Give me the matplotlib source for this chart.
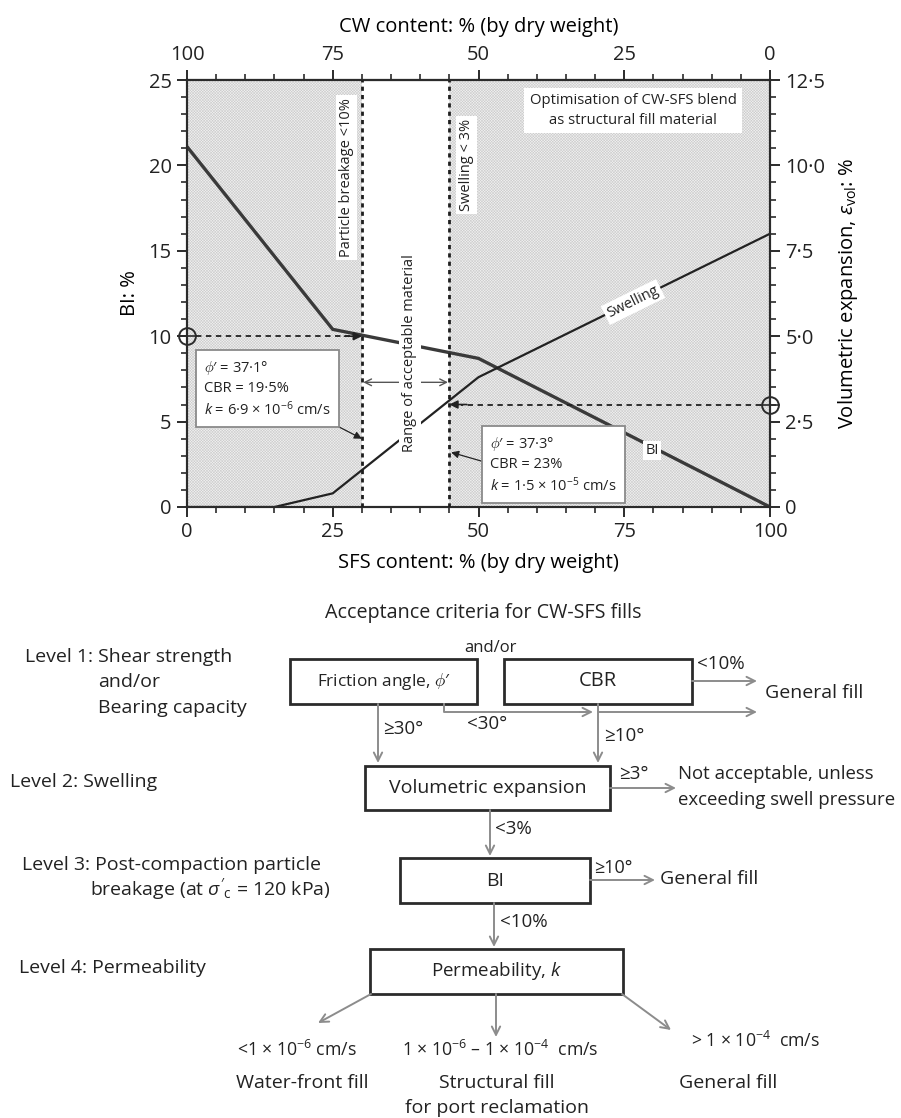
import numpy as np
import matplotlib
matplotlib.use('Agg')
import matplotlib.pyplot as plt
from matplotlib.patches import Rectangle
from matplotlib.ticker import MultipleLocator, FixedLocator, FixedFormatter

plt.rcParams['font.family'] = ['Open Sans', 'DejaVu Sans']
plt.rcParams['mathtext.fontset'] = 'custom'
plt.rcParams['mathtext.rm'] = 'Open Sans'
plt.rcParams['mathtext.it'] = 'Open Sans:italic'
plt.rcParams['mathtext.bf'] = 'Open Sans:bold'
plt.rcParams['hatch.linewidth'] = 0.4
plt.rcParams['text.color'] = '#222222'

# ---- chart data ----
bi_sfs = [0, 25, 50, 100]
bi_vals = [21.1, 10.4, 8.7, 0.0]
swell_sfs = [0, 15, 25, 50, 100]
swell_vals = [0.0, 0.0, 0.4, 3.8, 8.0]
breakage_limit = 30    # SFS % giving BI = 10 %
swelling_limit = 45    # SFS % giving swelling = 3 %
bi_target = 10
swell_target = 3.0
sfs_ticks = [0, 25, 50, 75, 100]
vol_ticks = [0, 2.5, 5, 7.5, 10, 12.5]
vol_labels = ['0', '2·5', '5·0', '7·5', '10·0', '12·5']
box_low = [r"$\phi$′ = 37·1°", 'CBR = 19·5%', r'$k$ = 6·9 × 10$^{-6}$ cm/s']
box_high = [r"$\phi$′ = 37·3°", 'CBR = 23%', r'$k$ = 1·5 × 10$^{-5}$ cm/s']

dark = '#2b2b2b'
grey_arrow = '#8c8c8c'

fig = plt.figure(figsize=(9.01, 11.18), dpi=100)

# ---- flowchart (pixel layout, drawn first so the chart sits on top) ----
fc = fig.add_axes([0, 0, 1, 1])
fc.set_xlim(0, 901)
fc.set_ylim(1118, 0)
fc.axis('off')

flow_boxes = [
    (r"Friction angle, $\phi$′", 290, 659, 477, 704, 12.4),
    ('CBR', 504, 659, 692, 704, 14.5),
    ('Volumetric expansion', 365, 766, 610, 810, 14),
    ('BI', 400, 858, 590, 903, 14),
    (r'Permeability, $k$', 370, 949, 623, 994, 13.5),
]
for label, x0, y0, x1, y1, fs in flow_boxes:
    fc.add_patch(Rectangle((x0, y0), x1 - x0, y1 - y0, fc='white', ec=dark, lw=2))
    fc.text((x0 + x1) / 2, (y0 + y1) / 2, label, ha='center', va='center', fontsize=fs)

flow_arrows = [
    (692, 681, 757, 681),
    (598, 712, 757, 712),
    (598, 704, 598, 763),
    (378, 704, 378, 763),
    (610, 788, 676, 788),
    (490, 810, 490, 856),
    (590, 880, 655, 880),
    (494, 903, 494, 947),
    (371, 994, 318, 1023),
    (496, 994, 496, 1037),
    (622, 994, 671, 1030),
]
for x0, y0, x1, y1 in flow_arrows:
    fc.annotate('', xy=(x1, y1), xytext=(x0, y0),
                arrowprops=dict(arrowstyle='->', color=grey_arrow, lw=1.4,
                                shrinkA=0, shrinkB=0, mutation_scale=15))
# bent connector friction angle -> general fill
fc.plot([444, 444, 585], [704, 712, 712], color=grey_arrow, lw=1.4)
fc.annotate('', xy=(593, 712), xytext=(580, 712),
            arrowprops=dict(arrowstyle='->', color=grey_arrow, lw=1.4,
                            shrinkA=0, shrinkB=0, mutation_scale=15))

flow_texts = [
    (483, 613, 'Acceptance criteria for CW-SFS fills', 'center', 14.2),
    (25, 657, 'Level 1: Shear strength', 'left', 14),
    (98, 682, 'and/or', 'left', 14),
    (98, 708, 'Bearing capacity', 'left', 14),
    (490, 648, 'and/or', 'center', 12),
    (697, 664, '<10%', 'left', 13.5),
    (765, 693, 'General fill', 'left', 14),
    (487, 724, '<30°', 'center', 13.5),
    (383, 729, '≥30°', 'left', 13.5),
    (604, 736, '≥10°', 'left', 13.5),
    (10, 782, 'Level 2: Swelling', 'left', 14),
    (619, 774, '≥3°', 'left', 13.5),
    (678, 774, 'Not acceptable, unless', 'left', 13.4),
    (678, 800, 'exceeding swell pressure', 'left', 13.4),
    (495, 829, '<3%', 'left', 13.5),
    (22, 865, 'Level 3: Post-compaction particle', 'left', 14),
    (90, 889, r"breakage (at $\sigma'_{\rm c}$ = 120 kPa)", 'left', 14),
    (594, 868, '≥10°', 'left', 13),
    (660, 879, 'General fill', 'left', 14),
    (500, 922, '<10%', 'left', 13.5),
    (19, 968, 'Level 4: Permeability', 'left', 14),
    (297, 1050, r'<1 × 10$^{-6}$ cm/s', 'center', 12.7),
    (500, 1050, r'1 × 10$^{-6}$ – 1 × 10$^{-4}$  cm/s', 'center', 12.7),
    (755, 1041, r'> 1 × 10$^{-4}$  cm/s', 'center', 12.7),
    (302, 1083, 'Water-front fill', 'center', 14),
    (497, 1083, 'Structural fill', 'center', 14),
    (497, 1108, 'for port reclamation', 'center', 14),
    (728, 1083, 'General fill', 'center', 14),
]
for x, y, s, ha, fs in flow_texts:
    fc.text(x, y, s, ha=ha, va='center', fontsize=fs)

# ---- chart ----
ax = fig.add_axes([187 / 901, 1 - 507 / 1118, 583 / 901, 427 / 1118])
ax.set_xlim(0, 100)
ax.set_ylim(0, 25)
ax.axvspan(0, breakage_limit, facecolor='#f2f2f2', hatch='x' * 12, edgecolor='#cdcdcd', lw=0)
ax.axvspan(swelling_limit, 100, facecolor='#f2f2f2', hatch='x' * 12, edgecolor='#cdcdcd', lw=0)
ax.plot(bi_sfs, bi_vals, color='#3a3a3a', lw=2.4, solid_joinstyle='miter')

ax2 = ax.twinx()
ax2.set_ylim(0, 12.5)
ax2.plot(swell_sfs, swell_vals, color='#222222', lw=1.6)

for a in (ax, ax2):
    for sp in a.spines.values():
        sp.set_color(dark)
        sp.set_linewidth(1.5)

ax.xaxis.set_major_locator(FixedLocator(sfs_ticks))
ax.xaxis.set_minor_locator(MultipleLocator(5))
ax.yaxis.set_major_locator(MultipleLocator(5))
ax.yaxis.set_minor_locator(MultipleLocator(1))
ax2.yaxis.set_major_locator(FixedLocator(vol_ticks))
ax2.yaxis.set_major_formatter(FixedFormatter(vol_labels))
ax2.yaxis.set_minor_locator(MultipleLocator(0.5))

top = ax.secondary_xaxis('top', functions=(lambda v: 100 - v, lambda v: 100 - v))
top.xaxis.set_major_locator(FixedLocator(sfs_ticks))
top.xaxis.set_minor_locator(MultipleLocator(5))
top.spines['top'].set_color(dark)
top.spines['top'].set_linewidth(1.5)

for a in (ax, ax2, top):
    a.tick_params(which='major', direction='out', length=7, width=1.4, colors=dark,
                  labelsize=14.5, labelcolor='#222222', pad=4)
    a.tick_params(which='minor', direction='out', length=4, width=1.2, colors=dark)

ax.set_xlabel('SFS content: % (by dry weight)', fontsize=14.5, labelpad=8)
top.set_xlabel('CW content: % (by dry weight)', fontsize=14.5, labelpad=9)
ax.set_ylabel('BI: %', fontsize=14.5, labelpad=6)
ax2.set_ylabel(r'Volumetric expansion, $\varepsilon_{\rm vol}$: %', fontsize=14.5, labelpad=8)

# limit lines
for xl in (breakage_limit, swelling_limit):
    ax2.axvline(xl, color='#1e1e1e', lw=2.0, ls=(0, (1.5, 1.5)), zorder=3)

# target markers and dashed arrows
ax.plot([0], [bi_target], marker='o', ms=12, mfc='none', mec=dark, mew=1.4, clip_on=False, zorder=5)
ax.plot([0], [bi_target], marker='+', ms=15, mec=dark, mew=1.2, clip_on=False, zorder=5)
ax2.plot([100], [swell_target], marker='o', ms=12, mfc='none', mec=dark, mew=1.4, clip_on=False, zorder=5)
ax2.plot([100], [swell_target], marker='+', ms=15, mec=dark, mew=1.2, clip_on=False, zorder=5)
ax2.plot([1.5, breakage_limit - 2], [bi_target / 2, bi_target / 2], color='#222', lw=1.3, ls=(0, (3, 2.5)))
ax2.annotate('', xy=(breakage_limit, bi_target / 2), xytext=(breakage_limit - 3, bi_target / 2),
             arrowprops=dict(arrowstyle='-|>', color='#222', lw=1.2, shrinkA=0, shrinkB=0, mutation_scale=12))
ax2.plot([98.5, swelling_limit + 2], [swell_target, swell_target], color='#222', lw=1.3, ls=(0, (3, 2.5)))
ax2.annotate('', xy=(swelling_limit, swell_target), xytext=(swelling_limit + 3, swell_target),
             arrowprops=dict(arrowstyle='-|>', color='#222', lw=1.2, shrinkA=0, shrinkB=0, mutation_scale=12))

# range of acceptable material
ax2.annotate('', xy=(swelling_limit, 7.3 / 2), xytext=(breakage_limit, 7.3 / 2),
             arrowprops=dict(arrowstyle='<->', color='#555', lw=1.0, shrinkA=1, shrinkB=1, mutation_scale=12))
ax2.text(38.2, 9.0, 'Range of acceptable material', transform=ax.transData, rotation=90,
         ha='center', va='center', fontsize=10.5, zorder=6,
         bbox=dict(boxstyle='square,pad=0.25', fc='white', ec='none'))
ax2.text(27.4, 19.3, 'Particle breakage <10%', transform=ax.transData, rotation=90,
         ha='center', va='center', fontsize=10.5, zorder=6,
         bbox=dict(boxstyle='square,pad=0.2', fc='white', ec='none'))
ax2.text(48.0, 20.0, 'Swelling < 3%', transform=ax.transData, rotation=90,
         ha='center', va='center', fontsize=10.5, zorder=6,
         bbox=dict(boxstyle='square,pad=0.2', fc='white', ec='none'))
ax2.text(76.5, 23.2, 'Optimisation of CW-SFS blend\nas structural fill material', transform=ax.transData,
         ha='center', va='center', fontsize=10.7, linespacing=1.45, zorder=6,
         bbox=dict(boxstyle='square,pad=0.35', fc='white', ec='none'))

# curve labels
p0 = ax2.transData.transform((50, swell_vals[3]))
p1 = ax2.transData.transform((100, swell_vals[4]))
ang = np.degrees(np.arctan2(p1[1] - p0[1], p1[0] - p0[0]))
ax2.text(76.5, 6.0, 'Swelling', rotation=ang, rotation_mode='anchor', ha='center', va='center',
         fontsize=10.5, zorder=6, bbox=dict(boxstyle='square,pad=0.2', fc='white', ec='none'))
ax2.text(79.8, 3.3, 'BI', transform=ax.transData, ha='center', va='center', fontsize=10.5, zorder=6,
         bbox=dict(boxstyle='square,pad=0.15', fc='white', ec='none'))

# property boxes
ax2.text(2.9, 6.9, '\n'.join(box_low), transform=ax.transData, ha='left', va='center',
         fontsize=10.5, linespacing=1.35, zorder=7,
         bbox=dict(boxstyle='square,pad=0.55', fc='white', ec='#8a8a8a', lw=1.3))
ax2.text(52.0, 2.46, '\n'.join(box_high), transform=ax.transData, ha='left', va='center',
         fontsize=10.5, linespacing=1.35, zorder=7,
         bbox=dict(boxstyle='square,pad=0.55', fc='white', ec='#8a8a8a', lw=1.3))
ax2.annotate('', xy=(breakage_limit, 4.0 / 2), xytext=(26.0, 4.7 / 2),
             arrowprops=dict(arrowstyle='-|>', color='#222', lw=0.9, shrinkA=0, shrinkB=0, mutation_scale=11))
ax2.annotate('', xy=(swelling_limit + 0.3, 3.2 / 2), xytext=(51.4, 2.6 / 2),
             arrowprops=dict(arrowstyle='-|>', color='#222', lw=0.9, shrinkA=0, shrinkB=0, mutation_scale=11))

fig.savefig('out.png', dpi=100)
